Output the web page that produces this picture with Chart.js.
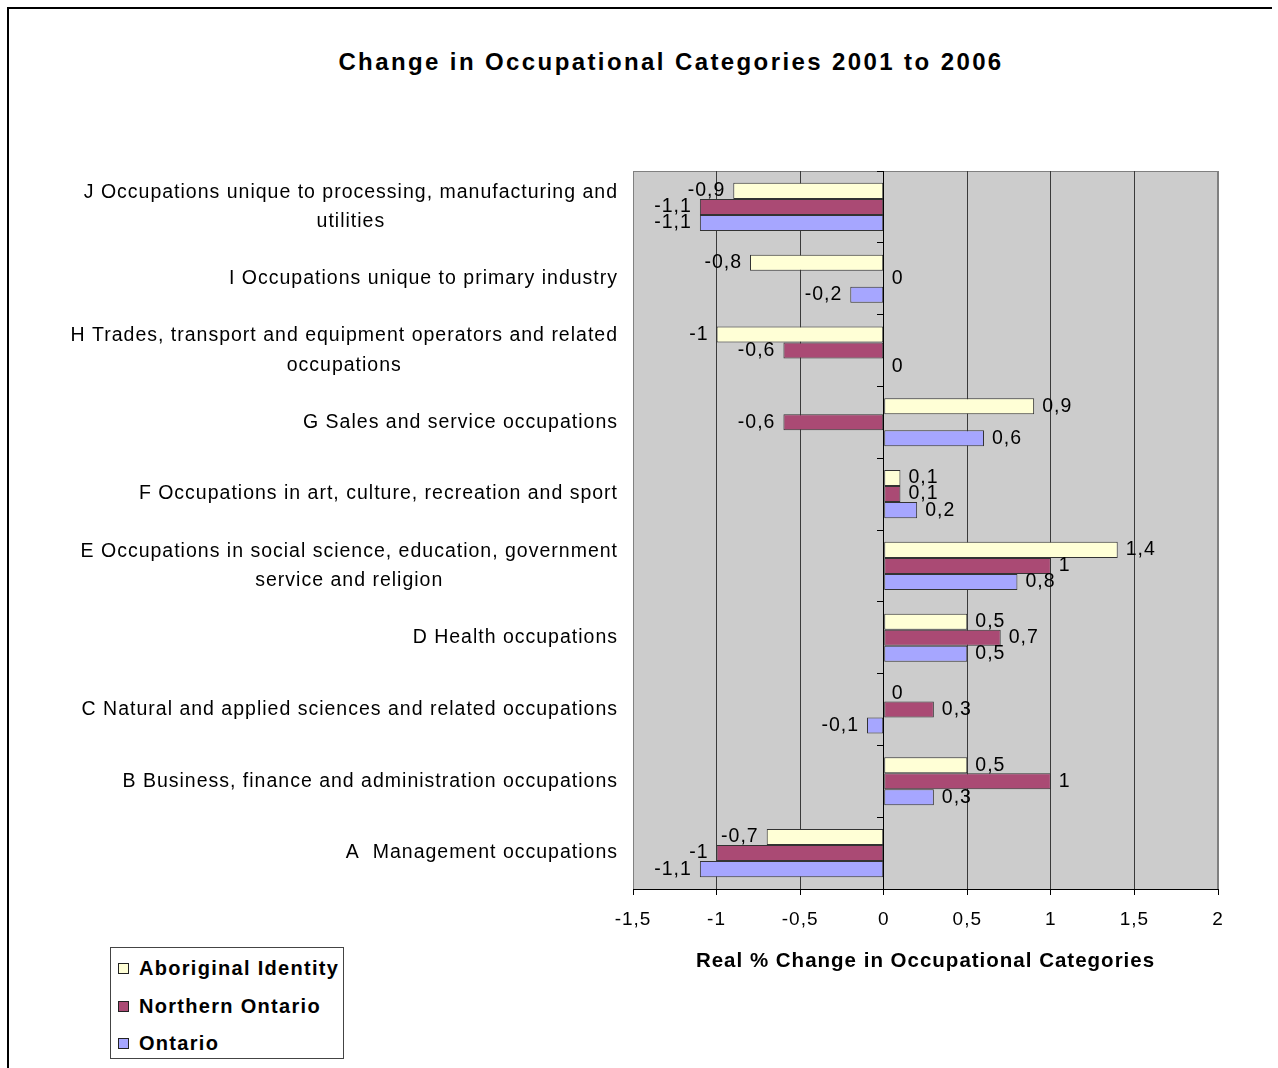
<!DOCTYPE html>
<html>
<head>
<meta charset="utf-8">
<script src="https://cdn.jsdelivr.net/npm/chart.js@4.4.1/dist/chart.umd.min.js"></script>
<style>
  body { margin: 0; background: #fff; font-family: "Liberation Sans", Arial, sans-serif; }
  #wrap { position: relative; width: 1278px; height: 1068px; overflow: hidden; }
  #frame { position: absolute; left: 7px; top: 7px; width: 1263px; height: 1070px; border-left: 2px solid #000; border-top: 2px solid #000; }
  #title { position: absolute; left: 0; width: 1342px; top: 48px; text-align: center; font-weight: bold; font-size: 24px; letter-spacing: 2.4px; }
  #legend { position: absolute; left: 110px; top: 947px; width: 232px; height: 110px; border: 1px solid #444; background: #fff; }
  .item { position: absolute; left: 7px; height: 24px; line-height: 24px; font-weight: bold; font-size: 20px; white-space: nowrap; letter-spacing: 1.3px; }
  .box { display: inline-block; width: 9px; height: 9px; border: 1px solid #222; margin-right: 10px; vertical-align: 1px; }
  canvas { position: absolute; left: 0; top: 0; }
</style>
</head>
<body>
<div id="wrap">
  <div id="frame"></div>
  <div id="title">Change in Occupational Categories 2001 to 2006</div>
  <canvas id="chart" width="1278" height="1068"></canvas>
  <div id="legend"></div>
</div>
<script>
// categories, top to bottom (lines as wrapped in the original)
const categories = [
  ["J Occupations unique to processing, manufacturing and", "utilities"],
  ["I Occupations unique to primary industry"],
  ["H Trades, transport and equipment operators and related", "occupations"],
  ["G Sales and service occupations"],
  ["F Occupations in art, culture, recreation and sport"],
  ["E Occupations in social science, education, government", "service and religion"],
  ["D Health occupations"],
  ["C Natural and applied sciences and related occupations"],
  ["B Business, finance and administration occupations"],
  ["A  Management occupations"],
];

const aboriginal = [-0.9, -0.8, -1, 0.9, 0.1, 1.4, 0.5, 0, 0.5, -0.7];
const northern = [-1.1, 0, -0.6, -0.6, 0.1, 1, 0.7, 0.3, 1, -1];
const ontario = [-1.1, -0.2, 0, 0.6, 0.2, 0.8, 0.5, -0.1, 0.3, -1.1];

const xTicks = [-1.5, -1, -0.5, 0, 0.5, 1, 1.5, 2];

const seriesNames = ["Aboriginal Identity", "Northern Ontario", "Ontario"];
const seriesColors = ["#FFFFD6", "#AA4A74", "#A6A6FF"];

const fmt = (v) => String(v).replace(".", ",");
const font = '"Liberation Sans", Arial, sans-serif';

// grey plot area with border
const plotBackground = {
  id: "plotBackground",
  beforeDraw(chart) {
    const { ctx, chartArea: a } = chart;
    ctx.save();
    ctx.fillStyle = "#CCCCCC";
    ctx.fillRect(a.left, a.top, a.right - a.left, a.bottom - a.top);
    ctx.strokeStyle = "#808080";
    ctx.lineWidth = 1;
    ctx.strokeRect(a.left + 0.5, a.top + 0.5, a.right - a.left - 1, a.bottom - a.top);
    ctx.restore();
    // wider spacing like the original's text
    ctx.letterSpacing = "1px";
  },
};

// category names left of plot, block right-aligned, lines centred
const categoryLabels = {
  id: "categoryLabels",
  afterDraw(chart) {
    const { ctx, chartArea } = chart;
    const yScale = chart.scales.y;
    const right = chartArea.left - 16;
    ctx.save();
    ctx.font = "19.5px " + font;
    ctx.letterSpacing = "1px";
    ctx.fillStyle = "#000";
    ctx.textAlign = "center";
    ctx.textBaseline = "middle";
    categories.forEach((lines, i) => {
      const py = yScale.getPixelForValue(i);
      const w = Math.max(...lines.map((l) => ctx.measureText(l).width));
      const cx = right - w / 2 + 1;
      lines.forEach((l, k) => {
        ctx.fillText(l, cx, py + (k - (lines.length - 1) / 2) * 29.5);
      });
    });
    ctx.restore();
  },
};

// value labels at the outer end of each bar
const barLabels = {
  id: "barLabels",
  afterDatasetsDraw(chart) {
    const { ctx } = chart;
    ctx.save();
    ctx.font = "19.5px " + font;
    ctx.letterSpacing = "1px";
    ctx.fillStyle = "#000";
    ctx.textBaseline = "middle";
    chart.data.datasets.forEach((ds, i) => {
      chart.getDatasetMeta(i).data.forEach((bar, j) => {
        const v = ds.data[j];
        const neg = v < 0;
        ctx.textAlign = neg ? "right" : "left";
        ctx.fillText(fmt(v), bar.x + (neg ? -8 : 8), bar.y);
      });
    });
    ctx.restore();
  },
};

const chart = new Chart(document.getElementById("chart"), {
  type: "bar",
  data: {
    labels: categories,
    datasets: [aboriginal, northern, ontario].map((d, i) => ({
      label: seriesNames[i],
      data: d,
      backgroundColor: seriesColors[i],
      borderColor: "#333",
      borderWidth: 1,
      borderSkipped: false,
      categoryPercentage: 0.67,
      barPercentage: 1,
    })),
  },
  options: {
    indexAxis: "y",
    responsive: false,
    animation: false,
    layout: { padding: { left: 633, right: 60, top: 171, bottom: 94 } },
    plugins: {
      legend: { display: false },
      title: { display: false },
      tooltip: { enabled: false },
    },
    scales: {
      x: {
        min: -1.5,
        max: 2,
        afterBuildTicks: (scale) => {
          scale.ticks = xTicks.map((v) => ({ value: v }));
        },
        afterFit: (scale) => {
          scale.height = 85;
        },
        border: { color: "#000", width: 1 },
        grid: {
          color: (c) => {
            const v = c.tick ? c.tick.value : null;
            if (v === 0) return "#000";
            if (v === -1.5 || v === 2) return "#808080";
            return "#3a3a3a";
          },
          tickColor: "#000",
          tickLength: 6,
        },
        ticks: {
          color: "#000",
          padding: 13,
          font: { family: font, size: 19 },
          callback: (v) => fmt(v),
        },
        title: {
          display: true,
          text: "Real % Change in Occupational Categories",
          color: "#000",
          padding: 0,
          font: { family: font, size: 20.5, weight: "bold" },
        },
      },
      y: {
        position: { x: 0 },
        border: { color: "#000", width: 1 },
        grid: {
          drawOnChartArea: false,
          drawTicks: true,
          tickLength: 6,
          tickColor: "#000",
        },
        ticks: { display: false },
      },
    },
  },
  plugins: [plotBackground, categoryLabels, barLabels],
});

// legend box, built from the datasets
const legend = document.getElementById("legend");
chart.data.datasets.forEach((ds, i) => {
  const item = document.createElement("div");
  item.className = "item";
  item.style.top = 8 + i * 37.5 + "px";
  item.innerHTML = '<span class="box" style="background:' + ds.backgroundColor + '"></span>' + ds.label;
  legend.appendChild(item);
});
</script>
</body>
</html>
